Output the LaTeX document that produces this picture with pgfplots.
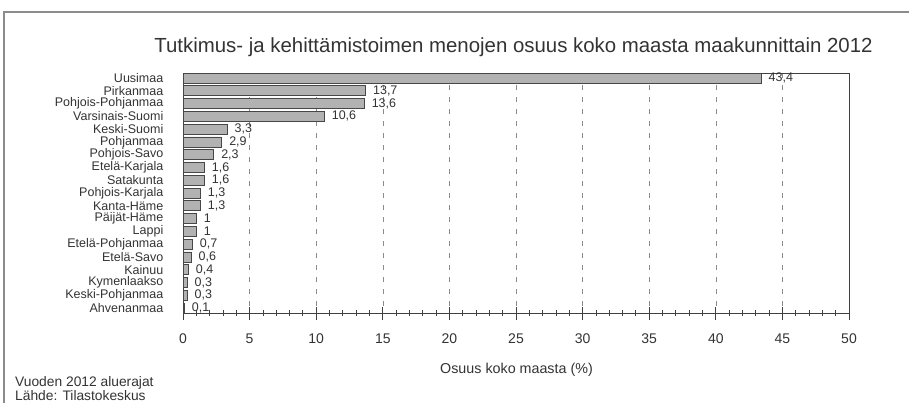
\documentclass[border=0pt]{standalone}
\usepackage{fontspec}
\setmainfont{Liberation Sans}
\usepackage{pgfplots}
\pgfplotsset{compat=1.18}
\definecolor{txt}{HTML}{333333}
\begin{document}
\begin{tikzpicture}
\useasboundingbox (0pt,0pt) rectangle (909pt,-403pt);
\draw[black!45, line width=1.3pt] (4pt,-410pt) -- (4pt,-12pt) -- (915pt,-12pt);
\node[font=\fontsize{20.4}{24}\selectfont, text=txt] at (513.5pt,-47pt) {Tutkimus- ja kehittämistoimen menojen osuus koko maasta maakunnittain 2012};
\begin{axis}[
  at={(183pt,-313pt)}, anchor=south west,
  scale only axis, width=666pt, height=240pt,
  xbar, bar width=10pt, bar shift=0pt,
  xmin=0, xmax=50, ymin=-0.39, ymax=18.39, y dir=reverse,
  axis line style={black!75, line width=0.9pt},
  xtick={0,5,...,50}, minor x tick num=4,
  xtick pos=bottom, ytick pos=left,
  tick align=center, major tick length=13pt, minor tick length=6pt,
  xtick style={black!75, line width=0.8pt},
  ytick={0,...,18},
  yticklabels={Uusimaa,Pirkanmaa,Pohjois-Pohjanmaa,Varsinais-Suomi,Keski-Suomi,Pohjanmaa,Pohjois-Savo,Etelä-Karjala,Satakunta,Pohjois-Karjala,Kanta-Häme,Päijät-Häme,Lappi,Etelä-Pohjanmaa,Etelä-Savo,Kainuu,Kymenlaakso,Keski-Pohjanmaa,Ahvenanmaa},
  ytick style={draw=none},
  xmajorgrids,
  major grid style={black!45, dash pattern=on 5pt off 7pt, line width=0.6pt},
  yticklabel style={font=\fontsize{12.5}{13}\selectfont, text=txt, anchor=east, inner sep=0pt, xshift=-13pt},
  xticklabel style={font=\fontsize{14}{15}\selectfont, text=txt, yshift=-11pt},
  /pgf/number format/assume math mode=true,
  /pgf/number format/use comma,
  nodes near coords,
  nodes near coords style={font=\fontsize{12.5}{13}\selectfont, text=txt, anchor=west, xshift=4pt},
]
\addplot[fill=black!30, draw=black!72, line width=0.6pt] coordinates {
(43.4,0) (13.7,1) (13.6,2) (10.6,3) (3.3,4) (2.9,5) (2.3,6) (1.6,7) (1.6,8) (1.3,9) (1.3,10) (1,11) (1,12) (0.7,13) (0.6,14) (0.4,15) (0.3,16) (0.3,17) (0.1,18)};
\end{axis}
\node[font=\fontsize{14.3}{16}\selectfont, text=txt] at (516.5pt,-370pt) {Osuus koko maasta (\%)};
\node[anchor=base west, inner sep=0pt, font=\fontsize{13.8}{15}\selectfont, text=txt] at (15pt,-386pt) {Vuoden 2012 aluerajat};
\node[anchor=base west, inner sep=0pt, font=\fontsize{13.8}{15}\selectfont, text=txt] at (15pt,-400pt) {Lähde: Tilastokeskus};
\end{tikzpicture}
\end{document}
